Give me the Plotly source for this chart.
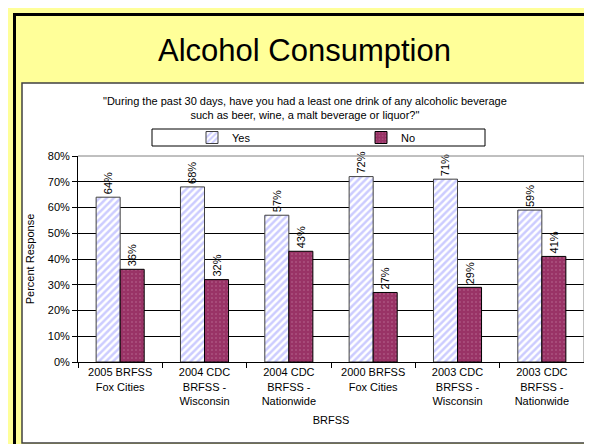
import plotly.graph_objects as go

categories = ["2005 BRFSS<br>Fox Cities", "2004 CDC<br>BRFSS -<br>Wisconsin", "2004 CDC<br>BRFSS -<br>Nationwide",
              "2000 BRFSS<br>Fox Cities", "2003 CDC<br>BRFSS -<br>Wisconsin", "2003 CDC<br>BRFSS -<br>Nationwide"]
yes_values = [64, 68, 57, 72, 71, 59]
no_values = [36, 32, 43, 27, 29, 41]
y_ticks = [0, 10, 20, 30, 40, 50, 60, 70, 80]
y_tick_labels = [f"{v}%" for v in y_ticks]

W, H = 592, 444
ML, MR, MT, MB = 70, 16, 148, 90
PW, PH = W - ML - MR, H - MT - MB


def px(p):
    return (p - ML) / PW


def py(p):
    return (H - MB - p) / PH


FONT = "Liberation Sans, Arial, sans-serif"

fig = go.Figure()
fig.add_trace(go.Bar(
    name="Yes", x=categories, y=yes_values,
    marker=dict(color="white", line=dict(color="#404040", width=1),
                pattern=dict(shape="/", fgcolor="#9999FF", bgcolor="white", size=5, solidity=0.5)),
    texttemplate="%{y}%", textposition="outside", textangle=-90,
    textfont=dict(size=11, color="black", family=FONT), cliponaxis=False,
))
fig.add_trace(go.Bar(
    name="No", x=categories, y=no_values,
    marker=dict(color="#993366", line=dict(color="black", width=1),
                pattern=dict(shape=".", fgcolor="#d8a4be", bgcolor="#993366", size=4, solidity=0.12)),
    texttemplate="%{y}%", textposition="outside", textangle=-90,
    textfont=dict(size=11, color="black", family=FONT), cliponaxis=False,
))

shapes = [
    # white panel
    dict(type="rect", xref="paper", yref="paper", x0=px(14), x1=px(591), y0=py(435), y1=py(75),
         fillcolor="white", line=dict(color="#404040", width=1.5), layer="below"),
    # black slide border (left and top)
    dict(type="path", xref="paper", yref="paper",
         path=f"M {px(6.5)},{py(446)} L {px(6.5)},{py(6.5)} L {px(594)},{py(6.5)}",
         line=dict(color="black", width=3), layer="below"),
    # legend box
    dict(type="rect", xref="paper", yref="paper", x0=px(144), x1=px(477), y0=py(138), y1=py(121),
         fillcolor="white", line=dict(color="black", width=1), layer="below"),
    # plot area border (top, right)
    dict(type="path", xref="paper", yref="paper", path="M 0,1 L 1,1 L 1,0",
         line=dict(color="#808080", width=1), layer="above"),
]

annotations = [
    dict(text="Alcohol Consumption", xref="paper", yref="paper", x=px(296), y=py(42),
         xanchor="center", yanchor="middle", showarrow=False,
         font=dict(size=31, color="black", family=FONT)),
    dict(text="\"During the past 30 days, have you had a least one drink of any alcoholic beverage<br>such as beer, wine, a malt beverage or liquor?\"",
         xref="paper", yref="paper", x=px(297), y=py(100), xanchor="center", yanchor="middle",
         showarrow=False, align="center", font=dict(size=11, color="black", family=FONT)),
]

fig.update_layout(
    width=W, height=H,
    margin=dict(l=ML, r=MR, t=MT, b=MB, autoexpand=False),
    paper_bgcolor="#FFFF99", plot_bgcolor="white",
    font=dict(family=FONT, size=11, color="black"),
    barmode="group", bargap=0.43, bargroupgap=0,
    showlegend=True,
    legend=dict(orientation="h", xanchor="left", x=px(184), yanchor="middle", y=py(129.5),
                bgcolor="rgba(0,0,0,0)", borderwidth=0, font=dict(size=11, family=FONT),
                entrywidth=124, entrywidthmode="pixels", tracegroupgap=0,
                itemclick=False),
    shapes=shapes, annotations=annotations,
    xaxis=dict(title=dict(text="BRFSS", font=dict(size=11), standoff=10),
               showline=True, linecolor="black", linewidth=1,
               ticks="outside", tickson="boundaries", ticklen=5, tickcolor="black",
               showgrid=False, tickfont=dict(size=11)),
    yaxis=dict(title=dict(text="Percent Response", font=dict(size=11), standoff=10),
               range=[0, 80], tickvals=y_ticks, ticktext=y_tick_labels,
               showline=True, linecolor="black", linewidth=1,
               ticks="outside", ticklen=5, tickcolor="black",
               showgrid=True, gridcolor="black", gridwidth=1, zeroline=False,
               tickfont=dict(size=11)),
)

fig.write_html("out.html")
